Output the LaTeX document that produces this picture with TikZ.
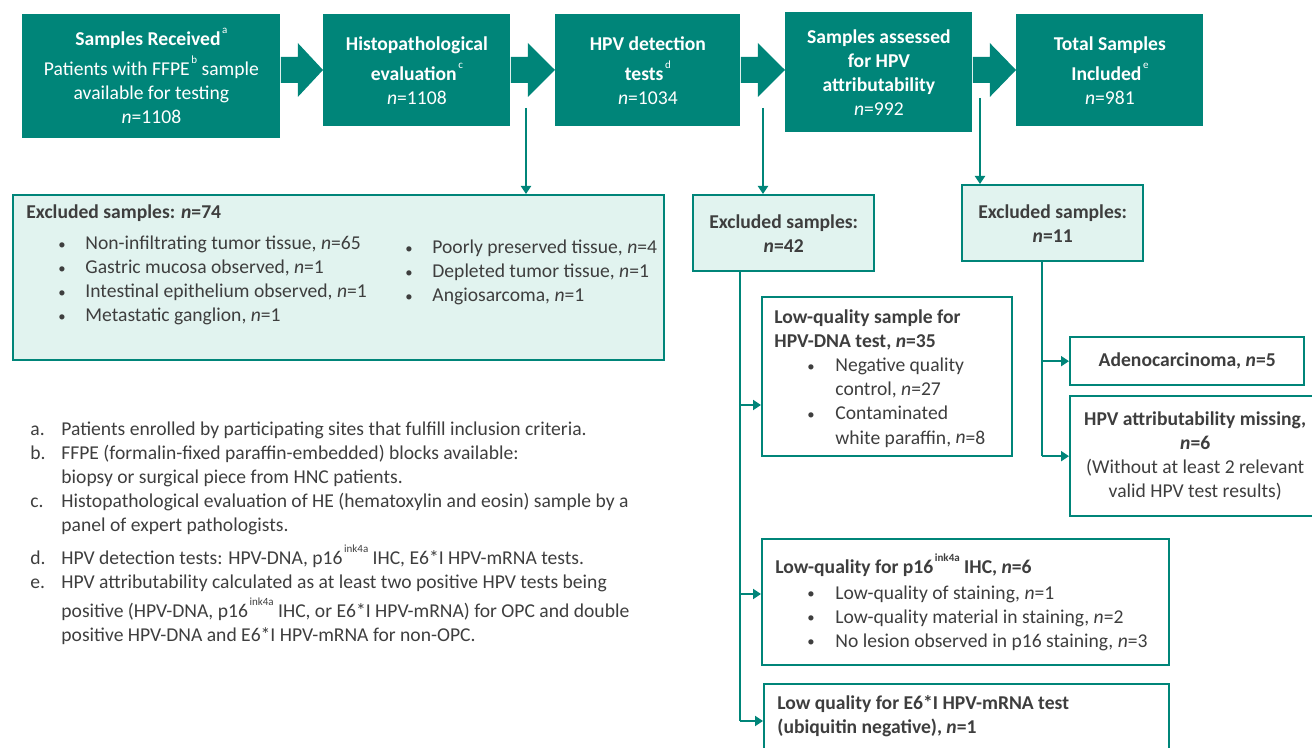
\documentclass[tikz,border=0pt]{standalone}
\usepackage{fontspec}
\setmainfont{Carlito}
\usetikzlibrary{arrows.meta,calc}

\definecolor{stepteal}{RGB}{0,133,121}
\definecolor{paleteal}{RGB}{225,243,239}
\definecolor{textgrey}{RGB}{62,62,62}

\newcommand{\sups}[1]{\hspace{0.8pt}\raisebox{6pt}{\fontsize{5.5}{6}\selectfont #1}}
\newcommand{\bul}{\raisebox{0.3pt}{\scalebox{0.75}{\textbullet}}}
\newcommand{\lines}[1]{\begin{tabular}[t]{@{}l@{}}#1\end{tabular}}
\newcommand{\blist}[2]{\begin{tabular}[t]{@{}p{#1}@{}l@{}}#2\end{tabular}}

\tikzset{
  stagebox/.style={fill=stepteal, text=white, align=center, anchor=north west, inner sep=0pt},
  exclbox/.style={draw=stepteal, line width=1.2pt, fill=paleteal, text=textgrey, anchor=north west, inner sep=0pt},
  reasonbox/.style={draw=stepteal, line width=1.2pt, fill=white, text=textgrey, anchor=north west, inner sep=0pt},
  txt/.style={text=textgrey, inner sep=0pt, anchor=base west},
  trunkline/.style={draw=stepteal, line width=1pt},
  conn/.style={trunkline, -{Triangle[length=4pt,width=5pt]}},
}

% block arrow between two stage boxes
\newcommand{\chevron}[2]{%
  \fill[stepteal] (#1.east |- 0,57) -- ++(17,0) -- ++(0,-14) -- (#2.west |- 0,70)
    -- ($(#1.east |- 0,97)+(17,0)$) -- ++(0,-14) -- (#1.east |- 0,83) -- cycle;
}

\begin{document}
\fontsize{9.8}{12}\selectfont
\begin{tikzpicture}[x=0.5pt, y=-0.5pt]
    \clip (0,0) rectangle (1312,748);

    % main stages
    \node[stagebox, minimum width=129pt, minimum height=62pt] (received) at (22,14)
        {\textbf{Samples Received}\sups{a}\\[3pt] Patients with FFPE\sups{b} sample\\ available for testing\\ \textit{n}=1108};
    \node[stagebox, minimum width=93.5pt, minimum height=56pt] (histo) at (323,14)
        {\textbf{Histopathological}\\[3pt] \textbf{evaluation}\sups{c}\\ \textit{n}=1108};
    \node[stagebox, minimum width=92.5pt, minimum height=56pt] (detect) at (555,14)
        {\textbf{HPV detection}\\[3pt] \textbf{tests}\sups{d}\\ \textit{n}=1034};
    \node[stagebox, minimum width=93.5pt, minimum height=60pt] (assessed) at (785,12)
        {\textbf{Samples assessed}\\ \textbf{for HPV}\\ \textbf{attributability}\\ \textit{n}=992};
    \node[stagebox, minimum width=93.5pt, minimum height=56pt] (included) at (1016,14)
        {\textbf{Total Samples}\\[3pt] \textbf{Included}\sups{e}\\ \textit{n}=981};

    \chevron{received}{histo}
    \chevron{histo}{detect}
    \chevron{detect}{assessed}
    \chevron{assessed}{included}

    % exclusions after histopathology
    \node[exclbox, minimum width=325.5pt, minimum height=82.5pt] (excl74) at (12,194) {};
    \node[txt] (excl74title) at (26,219) {\textbf{Excluded samples: \textit{n}=74}};
    \node[txt] (excl74left) at (58,250) {\blist{13.5pt}{
        \bul & Non-infiltrating tumor tissue, \textit{n}=65\\
        \bul & Gastric mucosa observed, \textit{n}=1\\
        \bul & Intestinal epithelium observed, \textit{n}=1\\
        \bul & Metastatic ganglion, \textit{n}=1}};
    \node[txt] (excl74right) at (405,254) {\blist{13.5pt}{
        \bul & Poorly preserved tissue, \textit{n}=4\\
        \bul & Depleted tumor tissue, \textit{n}=1\\
        \bul & Angiosarcoma, \textit{n}=1}};

    % exclusions after detection tests
    \node[exclbox, minimum width=90.5pt, minimum height=38pt, align=center, font=\bfseries] (excl42) at (692,194)
        {Excluded samples:\\ \textit{n}=42};
    \node[reasonbox, minimum width=125pt, minimum height=79.5pt] (lqdna) at (761,296) {};
    \node[txt, font=\bfseries] (lqdnatitle) at (774,324) {\lines{Low-quality sample for\\ HPV-DNA test, \textit{n}=35}};
    \node[txt] (lqdnalist) at (807,372) {\blist{14pt}{
        \bul & Negative quality\\
             & control, \textit{n}=27\\
        \bul & Contaminated\\
             & white paraffin, \textit{n}=8}};
    \node[reasonbox, minimum width=203.5pt, minimum height=63pt] (lqp16) at (761,538) {};
    \node[txt, font=\bfseries] (lqp16title) at (775,574) {Low-quality for p16\sups{ink4a} IHC, \textit{n}=6};
    \node[txt] (lqp16list) at (807,599) {\blist{14pt}{
        \bul & Low-quality of staining, \textit{n}=1\\
        \bul & Low-quality material in staining, \textit{n}=2\\
        \bul & No lesion observed in p16 staining, \textit{n}=3}};
    \node[reasonbox, minimum width=202.5pt, minimum height=45pt] (lqmrna) at (763,683) {};
    \node[txt, font=\bfseries] (lqmrnatitle) at (777,709) {\lines{Low quality for E6*I HPV-mRNA test\\ (ubiquitin negative), \textit{n}=1}};

    % exclusions after attributability
    \node[exclbox, minimum width=90.5pt, minimum height=38pt, align=center, font=\bfseries] (excl11) at (961,184)
        {Excluded samples:\\ \textit{n}=11};
    \node[reasonbox, minimum width=117pt, minimum height=24pt, font=\bfseries] (adeno) at (1069,336)
        {Adenocarcinoma, \textit{n}=5};
    \node[reasonbox, minimum width=125pt, minimum height=60pt, align=center] (attrmiss) at (1069,395)
        {\textbf{HPV attributability missing,}\\ \textbf{\textit{n}=6}\\ (Without at least 2 relevant\\ valid HPV test results)};

    % connectors
    \coordinate (drop1) at (526,108);
    \coordinate (drop2) at (763,108);
    \coordinate (drop3) at (980,98);
    \draw[conn] (drop1) -- (drop1 |- excl74.north);
    \draw[conn] (drop2) -- (drop2 |- excl42.north);
    \draw[conn] (drop3) -- (drop3 |- excl11.north);

    \coordinate (trunk42) at (excl42.south -| 740,0);
    \draw[trunkline] (trunk42) -- (trunk42 |- 0,721);
    \draw[conn] (trunk42 |- 0,405) -- (lqdna.west |- 0,405);
    \draw[conn] (trunk42 |- 0,594) -- (lqp16.west |- 0,594);
    \draw[conn] (trunk42 |- 0,721) -- (lqmrna.west |- 0,721);

    \coordinate (trunk11) at (excl11.south -| 1042,0);
    \draw[trunkline] (trunk11) -- (trunk11 |- attrmiss.west);
    \draw[conn] (trunk11 |- adeno.west) -- (adeno.west);
    \draw[conn] (trunk11 |- attrmiss.west) -- (attrmiss.west);

    % footnotes
    \node[txt] (notes) at (30,436) {\blist{15.5pt}{
        a. & Patients enrolled by participating sites that fulfill inclusion criteria.\\
        b. & FFPE (formalin-fixed paraffin-embedded) blocks available:\\
           & biopsy or surgical piece from HNC patients.\\
        c. & Histopathological evaluation of HE (hematoxylin and eosin) sample by a\\
           & panel of expert pathologists.\\[3pt]
        d. & HPV detection tests: HPV-DNA, p16\sups{ink4a} IHC, E6*I HPV-mRNA tests.\\
        e. & HPV attributability calculated as at least two positive HPV tests being\\[1pt]
           & positive (HPV-DNA, p16\sups{ink4a} IHC, or E6*I HPV-mRNA) for OPC and double\\
           & positive HPV-DNA and E6*I HPV-mRNA for non-OPC.}};
\end{tikzpicture}
\end{document}
